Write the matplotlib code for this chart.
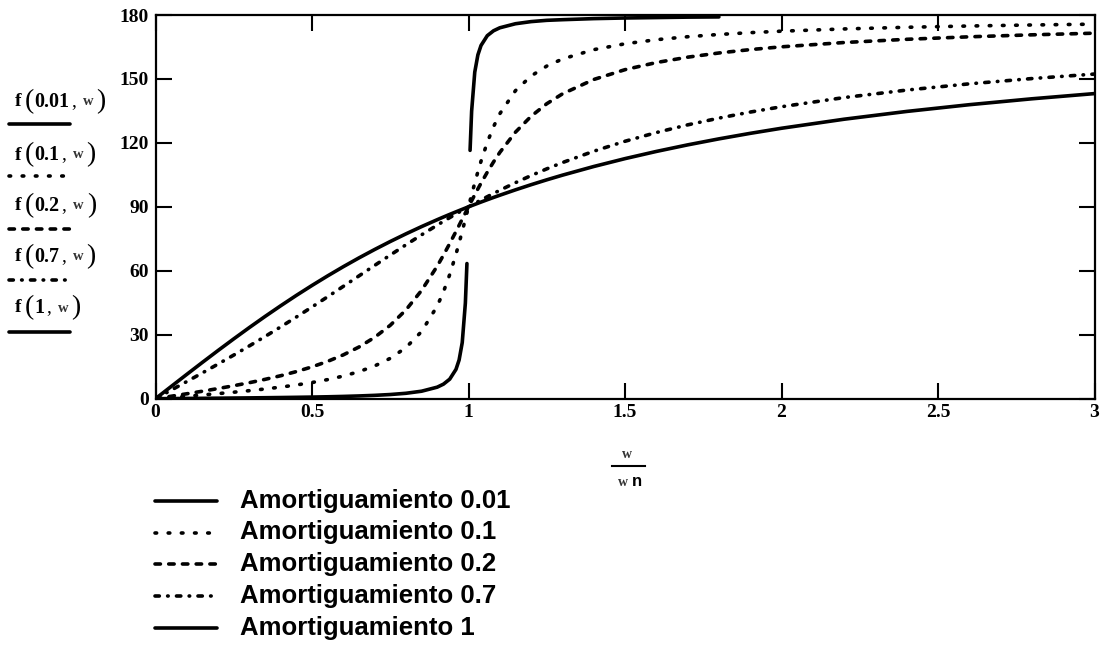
import numpy as np
import matplotlib
matplotlib.use("Agg")
import matplotlib.pyplot as plt

# frequency ratio w/wn
ratio = [0, 0.05, 0.1, 0.15, 0.2, 0.25, 0.3, 0.35, 0.4, 0.45, 0.5, 0.55, 0.6, 0.65,
         0.7, 0.75, 0.8, 0.85, 0.9, 0.92, 0.94, 0.96, 0.97, 0.98, 0.99, 0.995, 1.0,
         1.005, 1.01, 1.02, 1.03, 1.04, 1.06, 1.08, 1.1, 1.15, 1.2, 1.25, 1.3, 1.4,
         1.5, 1.6, 1.7, 1.8, 1.9, 2.0, 2.2, 2.4, 2.6, 2.8, 3.0]

# phase angle (degrees)
nan = np.nan
phi_001 = [0, 0.06, 0.12, 0.18, 0.24, 0.31, 0.38, 0.46, 0.55, 0.65, 0.76, 0.9, 1.07, 1.29,
           1.57, 1.96, 2.54, 3.51, 5.41, 6.83, 9.17, 13.76, 18.17, 26.33, 44.86, 63.4, nan,
           116.5, 134.9, 153.2, 161.3, 165.7, 170.3, 172.6, 174.0, 175.9, 176.9, 177.5, 177.8,
           178.3, 178.6, 178.8, 179.0, 179.1, nan, nan, nan, nan, nan, nan, nan]
phi_01 = [0, 0.57, 1.16, 1.76, 2.39, 3.05, 3.77, 4.56, 5.44, 6.44, 7.59, 8.96, 10.62, 12.69,
          15.35, 18.93, 23.96, 31.49, 43.45, 50.14, 58.24, 67.79, 73.06, 78.58, 84.26, 87.13, 90,
          92.86, 95.68, 101.2, 106.47, 111.42, 120.24, 127.61, 133.67, 144.5, 151.39, 156.04,
          159.36, 163.74, 166.5, 168.41, 169.8, 170.87, 171.72, 172.41, 173.46, 174.24, 174.84,
          175.32, 175.71]
phi_02 = [0, 1.15, 2.31, 3.51, 4.76, 6.09, 7.51, 9.07, 10.78, 12.72, 14.93, 17.51, 20.56, 24.24,
          28.77, 34.44, 41.63, 50.78, 62.18, 67.35, 72.8, 78.46, 81.34, 84.23, 87.12, 88.56, 90,
          91.43, 92.85, 95.66, 98.41, 101.1, 106.25, 111.07, 115.52, 125.03, 132.49, 138.37,
          142.99, 149.74, 154.36, 157.69, 160.21, 162.18, 163.77, 165.07, 167.09, 168.6, 169.77,
          170.7, 171.47]
phi_07 = [0, 4.01, 8.05, 12.12, 16.26, 20.47, 24.78, 29.18, 33.69, 38.31, 43.03, 47.83, 52.7, 57.6,
          62.51, 67.38, 72.18, 76.87, 81.42, 83.2, 84.95, 86.66, 87.51, 88.35, 89.18, 89.59, 90,
          90.41, 90.81, 91.62, 92.42, 93.21, 94.76, 96.28, 97.77, 101.33, 104.68, 107.82, 110.76,
          116.09, 120.76, 124.85, 128.45, 131.63, 134.46, 136.97, 141.27, 144.78, 147.71, 150.18,
          152.3]
phi_1 = [0, 5.72, 11.42, 17.06, 22.62, 28.07, 33.4, 38.58, 43.6, 48.46, 53.13, 57.62, 61.93, 66.05,
         69.98, 73.74, 77.32, 80.73, 83.97, 85.23, 86.46, 87.66, 88.25, 88.84, 89.43, 89.71, 90,
         90.29, 90.57, 91.13, 91.69, 92.25, 93.34, 94.41, 95.45, 97.98, 100.39, 102.68, 104.86,
         108.92, 112.62, 115.99, 119.07, 121.89, 124.48, 126.87, 131.11, 134.76, 137.92, 140.69,
         143.13]

series = [phi_001, phi_01, phi_02, phi_07, phi_1]
zetas = ["0.01", "0.1", "0.2", "0.7", "1"]
legend_names = ["Amortiguamiento 0.01", "Amortiguamiento 0.1", "Amortiguamiento 0.2",
                "Amortiguamiento 0.7", "Amortiguamiento 1"]
x_ticks = [0, 0.5, 1, 1.5, 2, 2.5, 3]
x_ticklabels = ["0", "0.5", "1", "1.5", "2", "2.5", "3"]
y_ticks = [0, 30, 60, 90, 120, 150, 180]

styles = ["-", (0, (0.45, 3.2)), (0, (1.5, 2.3)), (0, (1.2, 2.3, 0.15, 2.3)), "-"]
LW = 2.6

serif = "Liberation Serif"
sans = "Liberation Sans"

W, H = 1109, 649
fig = plt.figure(figsize=(W / 100, H / 100), dpi=100)
ax = fig.add_axes([155.5 / W, (H - 398.7) / H, 939 / W, 383.7 / H])

for y, st in zip(series, styles):
    ax.plot(ratio, y, color="black", lw=LW, linestyle=st,
            solid_capstyle="round", dash_capstyle="round", clip_on=True)

ax.set_xlim(0, 3)
ax.set_ylim(0, 180)
ax.set_xticks(x_ticks)
ax.set_xticklabels(x_ticklabels)
ax.set_yticks(y_ticks)
ax.set_yticklabels([str(v) for v in y_ticks])
ax.tick_params(direction="in", length=11.5, width=1.5, top=True, right=True, pad=5)
ax.tick_params(axis="x", pad=4)
for lab in ax.get_xticklabels() + ax.get_yticklabels():
    lab.set_fontfamily(serif)
    lab.set_fontweight("bold")
    lab.set_fontsize(14)
for s in ax.spines.values():
    s.set_linewidth(1.6)

# overlay in pixel coordinates for the Mathcad style labels
ov = fig.add_axes([0, 0, 1, 1], zorder=-1)
ov.set_xlim(0, W)
ov.set_ylim(H, 0)
ov.axis("off")


def chain(prev, s, size, weight="bold", fam=serif, color="black", dx=0):
    # place text right after the previous piece
    return ov.annotate(s, xy=(1, 0.5), xycoords=prev, xytext=(dx, 0),
                       textcoords="offset points", ha="left", va="center",
                       fontsize=size, fontweight=weight, fontfamily=fam, color=color)


# left side trace labels
name_y = [101.7, 155, 205.7, 256.7, 308]
line_y = [124.3, 176, 228.7, 280, 331.7]
for z, ty, ly, st in zip(zetas, name_y, line_y, styles):
    t = ov.text(15, ty, "f", fontfamily=serif, fontweight="bold", fontsize=14,
                ha="left", va="center")
    t = chain(t, "(", 20, weight="normal", dx=2)
    t = chain(t, z, 14.5, dx=0.5)
    t = chain(t, ",", 14, weight="normal", dx=1.5)
    t = chain(t, "w", 10.5, color="#333333", dx=5)
    t = chain(t, ")", 20, weight="normal", dx=2)
    ov.plot([9, 70], [ly, ly], color="black", lw=LW, linestyle=st,
            solid_capstyle="round", dash_capstyle="round")

# x axis label as a fraction
ov.text(627, 455, "w", fontfamily=serif, fontweight="bold", fontsize=10,
        color="#333333", ha="center", va="center")
ov.plot([612, 645], [466, 466], color="black", lw=1.5)
ov.text(623, 482, "w", fontfamily=serif, fontweight="bold", fontsize=10,
        color="#333333", ha="center", va="center")
ov.text(637, 481, "n", fontfamily=sans, fontweight="bold", fontsize=12,
        ha="center", va="center")

# bottom legend
leg_y = [501, 532.5, 564, 596, 627.5]
for nm, ly, st in zip(legend_names, leg_y, styles):
    ov.plot([155, 217], [ly, ly], color="black", lw=LW, linestyle=st,
            solid_capstyle="round", dash_capstyle="round")
    ov.text(240, ly, nm, fontfamily=sans, fontweight="bold", fontsize=18.5,
            ha="left", va="center")

fig.savefig("out.png", dpi=100)
